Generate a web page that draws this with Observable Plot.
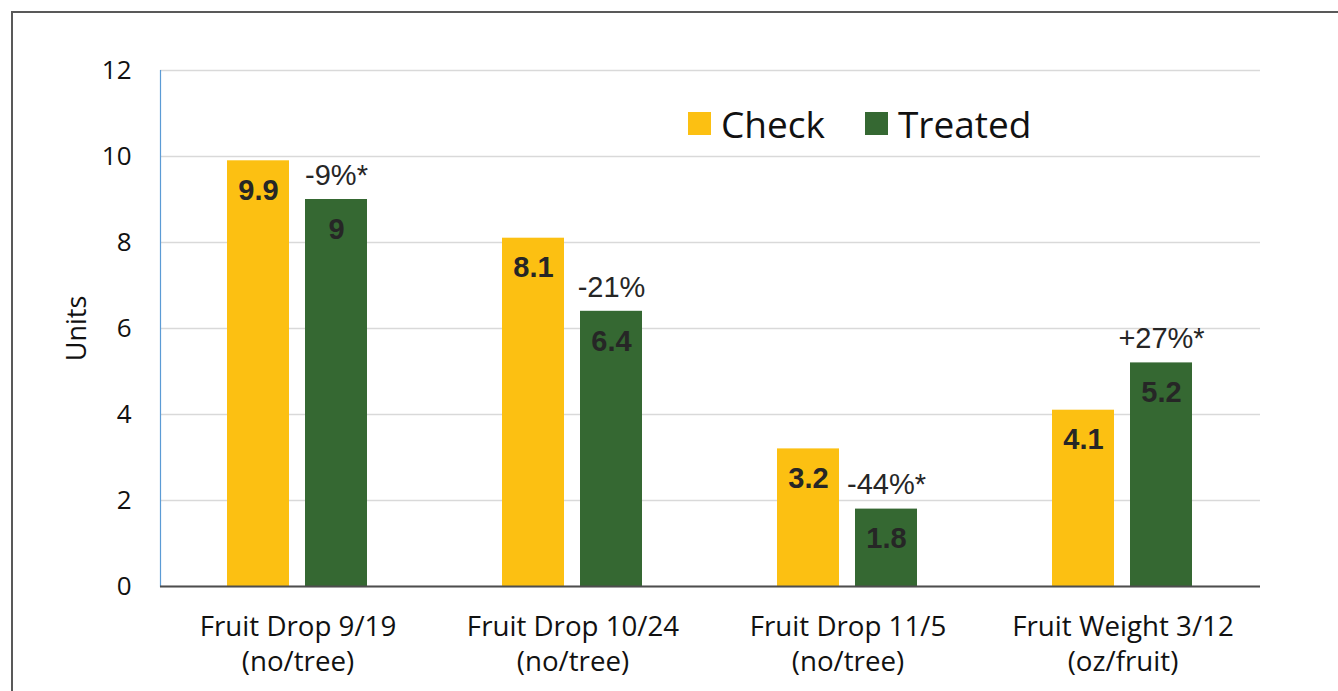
<!DOCTYPE html>
<html>
<head>
<meta charset="utf-8">
<script src="https://cdn.jsdelivr.net/npm/d3@7"></script>
<script src="https://cdn.jsdelivr.net/npm/@observablehq/plot@0.6"></script>
<style>
  html, body { margin: 0; padding: 0; background: #fff; }
  #wrap { position: relative; width: 1338px; height: 691px; overflow: hidden; }
  #border { position: absolute; left: 11px; top: 11px; width: 2000px; height: 2000px;
            border-top: 2px solid #595959; border-left: 2px solid #595959; pointer-events: none; }
  #legend { position: absolute; left: 688px; top: 105px; display: flex; align-items: center;
            font-family: "Open Sans", sans-serif; font-size: 37px; color: #111; line-height: 1; }
  #legend .sw { width: 23px; height: 23px; margin-right: 10px; }
  #legend .item { display: flex; align-items: center; margin-right: 40px; }
</style>
</head>
<body>
<div id="wrap">
  <div id="chart"></div>
  <div id="border"></div>
  <div id="legend"></div>
</div>
<script>
// ---- data ----
const categories = ["Fruit Drop 9/19", "Fruit Drop 10/24", "Fruit Drop 11/5", "Fruit Weight 3/12"];
const unitLabels = ["(no/tree)", "(no/tree)", "(no/tree)", "(oz/fruit)"];
const series = ["Check", "Treated"];
const checkValues = [9.9, 8.1, 3.2, 4.1];
const treatedValues = [9, 6.4, 1.8, 5.2];
const changeLabels = ["-9%*", "-21%", "-44%*", "+27%*"];
const yTicks = [0, 2, 4, 6, 8, 10, 12];
const colors = ["#FCC012", "#356832"];

const rows = [];
categories.forEach((c, i) => {
  rows.push({category: c, series: "Check", value: checkValues[i]});
  rows.push({category: c, series: "Treated", value: treatedValues[i], change: changeLabels[i]});
});
const treatedRows = rows.filter(d => d.series === "Treated");

const chart = Plot.plot({
  width: 1338,
  height: 691,
  marginLeft: 160,
  marginRight: 78,
  marginTop: 70,
  marginBottom: 105,
  style: {fontFamily: "'Open Sans', sans-serif", background: "transparent", color: "#111"},
  fx: {domain: categories, padding: 0, label: null},
  x: {domain: series, paddingInner: 0.205, paddingOuter: 0.865, axis: null},
  y: {domain: [0, 12], label: null},
  color: {domain: series, range: colors},
  marks: [
    Plot.gridY(yTicks, {stroke: "#d9d9d9", strokeOpacity: 1, strokeWidth: 1.5}),
    Plot.frame({anchor: "left", stroke: "#5b9bd5", strokeWidth: 1.2, fx: () => categories[0]}),
    Plot.barY(rows, {fx: "category", x: "series", y: "value", fill: "series"}),
    Plot.ruleY([0], {stroke: "#4d4d4d", strokeWidth: 2.2}),
    Plot.text(rows, {fx: "category", x: "series", y: "value", text: d => String(d.value),
      dy: 30, fontSize: 29, fontWeight: "bold", fill: "#262626", fontFamily: "'Liberation Sans', Arial, sans-serif"}),
    Plot.text(treatedRows, {fx: "category", x: "series", y: "value", text: "change",
      dy: -24, fontSize: 29, fill: "#262626", fontFamily: "'Liberation Sans', Arial, sans-serif"}),
    Plot.axisY(yTicks, {tickSize: 0, tickPadding: 29, fontSize: 26, label: null, fill: "#111"}),
    Plot.text(["Units"], {fx: () => categories[0], frameAnchor: "left", textAnchor: "middle", dx: -160 + 77, rotate: -90,
      fontSize: 27, fill: "#111", fontFamily: "'Open Sans', sans-serif"}),
    Plot.axisFx({anchor: "bottom", tickSize: 0, tickPadding: 25, fontSize: 27.7, lineHeight: 1.26,
      tickFormat: (d) => d + "\n" + unitLabels[categories.indexOf(d)], label: null, fill: "#111"})
  ]
});
document.getElementById("chart").appendChild(chart);

const legend = document.getElementById("legend");
series.forEach((s, i) => {
  const item = document.createElement("div");
  item.className = "item";
  const sw = document.createElement("div");
  sw.className = "sw";
  sw.style.background = colors[i];
  const t = document.createElement("span");
  t.textContent = s;
  item.appendChild(sw);
  item.appendChild(t);
  legend.appendChild(item);
});
</script>
</body>
</html>
